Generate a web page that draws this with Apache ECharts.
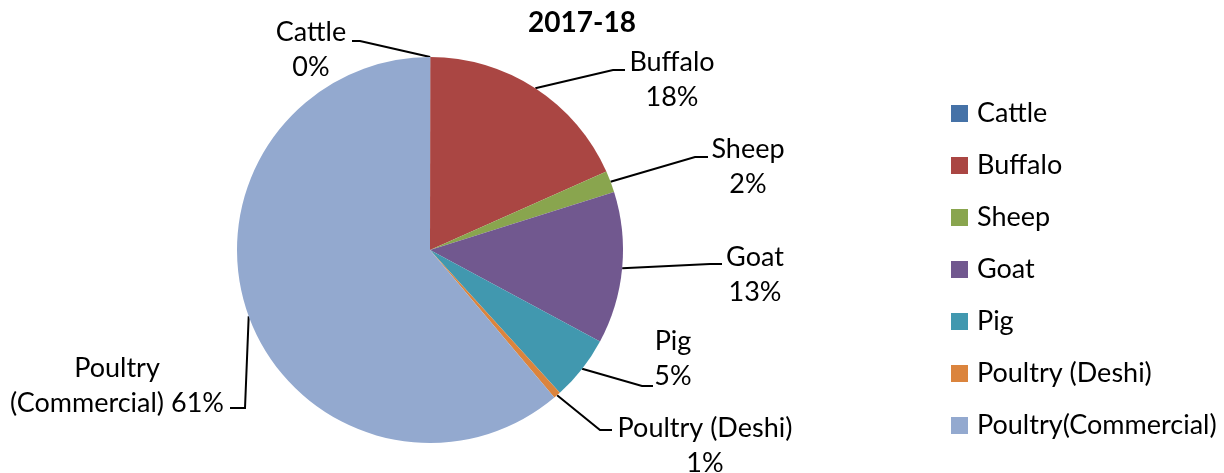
<!DOCTYPE html>
<html lang="en">
<head>
    <meta charset="UTF-8">
    <title>2017-18</title>
    <script src="https://cdn.jsdelivr.net/npm/echarts@6/dist/echarts.min.js"></script>
    <style>
        html,body{margin:0;padding:0;background:#fff}
        #chart{width:1224px;height:473px}
    </style>
</head>
<body>
    <div id="chart"></div>
    <script>
        // data (percent shares)
        var categories=['Cattle','Buffalo','Sheep','Goat','Pig','Poultry (Deshi)','Poultry(Commercial)'];
        var values=[0.03,18.3,1.8,12.7,5.4,0.6,61.1];
        var labelNames=['Cattle','Buffalo','Sheep','Goat','Pig','Poultry (Deshi)','Poultry'];
        var colors=['#4572A7','#AA4643','#89A54E','#71588F','#4198AF','#DB843D','#93A9CF'];

        // where each data label sits, plus the elbow and end of its leader line
        var labelPos=[[311,50],[672,80],[748,167],[755,275],[673,359],[705,446],[117,386]];
        var lineElbow=[[360,41],[613,70],[695,157],[710,264],[642,386],[600,430],[245,408]];
        var lineEnd=[[352,41],[625,70],[708,157],[722,264],[653,386],[612,430],[230,408]];

        var font='Lato';
        var mychart=echarts.init(document.getElementById('chart'));

        var pieData=[];
        for(var i=0;i<categories.length;i++){
            pieData.push({name:categories[i],value:values[i],itemStyle:{color:colors[i]}});
        }

        var option={
            animation:false,
            title:{
                text:'2017-18',
                left:577,
                textAlign:'center',
                top:4,
                textStyle:{fontFamily:font,fontSize:28,fontWeight:'bold',color:'#000'}
            },
            legend:{
                orient:'vertical',
                left:951,
                top:100,
                padding:0,
                icon:'rect',
                itemWidth:17,
                itemHeight:17,
                itemGap:25,
                data:categories,
                textStyle:{fontFamily:font,fontSize:27,color:'#000',padding:[0,0,0,4]}
            },
            series:[
                {
                    type:'pie',
                    center:[430,250],
                    radius:193,
                    startAngle:90,
                    clockwise:true,
                    emphasis:{disabled:true},
                    itemStyle:{borderWidth:0},
                    data:pieData,
                    label:{
                        show:true,
                        position:'outside',
                        overflow:'none',
                        fontFamily:font,
                        fontSize:27,
                        lineHeight:35,
                        color:'#000',
                        formatter:function(p){
                            var pct=Math.round(p.percent)+'%';
                            if(p.dataIndex===6){
                                return labelNames[6]+'\n(Commercial) '+pct;
                            }
                            return labelNames[p.dataIndex]+'\n'+pct;
                        }
                    },
                    labelLine:{
                        show:true,
                        smooth:false,
                        lineStyle:{color:'#000',width:2}
                    },
                    labelLayout:function(p){
                        var i=p.dataIndex;
                        var anchor=p.labelLinePoints?p.labelLinePoints[0]:lineElbow[i];
                        return {
                            x:labelPos[i][0],
                            y:labelPos[i][1],
                            align:'center',
                            verticalAlign:'middle',
                            labelLinePoints:[anchor,lineElbow[i],lineEnd[i]]
                        };
                    }
                }
            ]
        };
        mychart.setOption(option);
    </script>
</body>
</html>
